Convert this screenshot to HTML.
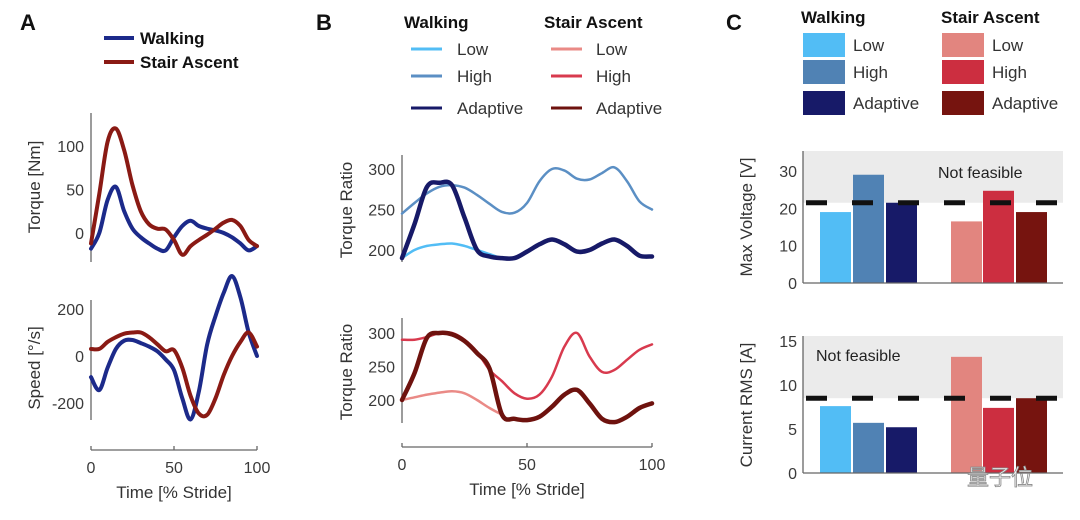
<!DOCTYPE html>
<html><head><meta charset="utf-8">
<style>
body{margin:0;background:#fff;}
svg{display:block;font-family:"Liberation Sans",sans-serif;}
.t{font-size:16px;fill:#3a3a3a;}
.lab{font-size:17px;fill:#333;}
.b{font-weight:bold;font-size:17px;fill:#111;}
.ax{stroke:#666;stroke-width:1.3;fill:none;}
</style></head>
<body>
<svg id="chart" width="1080" height="520" viewBox="0 0 1080 520">
<g id="root"></g>
</svg>
<script>
// ---------- DATA ----------
const xs = [0,5,10,15,20,25,30,35,40,45,50,55,60,65,70,75,80,85,90,95,100];
const torqueWalk = [-18,0,38,53,25,5,-5,-12,-18,-20,-5,8,14,8,5,3,0,-5,-12,-20,-15];
const torqueStair = [-12,45,105,120,95,55,25,10,5,4,-8,-25,-15,-8,-2,5,12,15,8,-8,-15];
const speedWalk = [-90,-145,-50,30,65,68,55,40,20,-15,-60,-180,-270,-150,50,170,270,340,250,100,0];
const speedStair = [30,30,60,80,95,100,100,80,50,20,25,-50,-170,-245,-250,-180,-80,0,60,100,40];
const ratioWalkHigh = [245,258,270,278,280,277,268,257,247,246,258,285,300,298,288,287,295,302,285,260,250];
const ratioWalkLow = [190,200,205,207,208,205,200,195,190,190,198,207,213,207,198,200,208,213,205,193,192];
const ratioWalkAdapt = [190,232,278,283,280,240,200,192,190,190,198,207,213,207,198,200,208,213,205,193,192];
const ratioStairHigh = [290,290,294,300,300,290,272,245,228,210,202,208,235,280,300,265,242,245,260,275,283];
const ratioStairLow = [200,204,208,211,213,210,200,188,178,172,170,175,190,208,215,195,172,167,175,188,195];
const ratioStairAdapt = [200,240,293,300,298,288,270,247,178,172,170,175,190,208,215,195,172,167,175,188,195];
const barCats = ['walk-low','walk-high','walk-adaptive','stair-low','stair-high','stair-adaptive'];
const voltageVals = [19,29,21.5,16.5,24.7,19];
const currentVals = [7.6,5.7,5.2,13.2,7.4,8.5];
const voltageLimit = 21.5;
const currentLimit = 8.5;
const barColors = ['#52bdf5','#5082b4','#171a68','#e2857f','#cc2e40','#76140f'];

const NS='http://www.w3.org/2000/svg';
const root=document.getElementById('root');
function el(tag,attrs,parent,text){const e=document.createElementNS(NS,tag);for(const k in attrs)e.setAttribute(k,attrs[k]);if(text!==undefined)e.textContent=text;(parent||root).appendChild(e);return e;}
function lin(d0,d1,r0,r1){return v=>r0+(v-d0)*(r1-r0)/(d1-d0);}
function smooth(pts){let d='M'+pts[0][0]+','+pts[0][1];for(let i=0;i<pts.length-1;i++){const p0=pts[Math.max(0,i-1)],p1=pts[i],p2=pts[i+1],p3=pts[Math.min(pts.length-1,i+2)];const c1=[p1[0]+(p2[0]-p0[0])/6,p1[1]+(p2[1]-p0[1])/6],c2=[p2[0]-(p3[0]-p1[0])/6,p2[1]-(p3[1]-p1[1])/6];d+=' C'+c1[0].toFixed(1)+','+c1[1].toFixed(1)+' '+c2[0].toFixed(1)+','+c2[1].toFixed(1)+' '+p2[0].toFixed(1)+','+p2[1].toFixed(1);}return d;}
function series(vals,X,Y,color,w,name,from,to){const pts=[];for(let i=0;i<xs.length;i++){if(xs[i]>=(from||0)&&xs[i]<=(to===undefined?100:to))pts.push([X(xs[i]),Y(vals[i])]);}
const p=el('path',{d:smooth(pts),stroke:color,'stroke-width':w,fill:'none','stroke-linejoin':'round','stroke-linecap':'round'});

}
function yaxis(x,y0,y1,ticks,Y,lx,name){const g=el('g',{});
el('line',{x1:x,y1:y0,x2:x,y2:y1,class:'ax'},g);
ticks.forEach(t=>el('text',{x:x-7,y:Y(t)+6,class:'t','text-anchor':'end'},g,String(t)));}
function ylabel(x,y,txt,name){const t=el('text',{x:x,y:y,class:'lab','text-anchor':'middle',transform:`rotate(-90 ${x} ${y})`},root,txt);}
function xaxis(x0,x1,y,X,name){const g=el('g',{});
el('line',{x1:x0,y1:y,x2:x1,y2:y,class:'ax'},g);
[0,50,100].forEach(t=>{el('line',{x1:X(t),y1:y,x2:X(t),y2:y-4,class:'ax'},g);el('text',{x:X(t),y:y+23,class:'t','text-anchor':'middle'},g,String(t));});
el('text',{x:(x0+x1)/2,y:y+48,class:'lab','text-anchor':'middle'},g,'Time [% Stride]');}
function letter(x,y,s){const t=el('text',{x:x,y:y,style:'font-weight:bold;font-size:22px;fill:#111'},root,s);}

// ---------- PANEL A ----------
letter(20,30,'A');
const XA=lin(0,100,91,257);
const YT=lin(0,100,233,146), YS=lin(0,200,356,309);
yaxis(91,113,262,[0,50,100],YT,0,'torque-y-axis');
yaxis(91,300,420,[-200,0,200],YS,0,'speed-y-axis');
ylabel(40,187,'Torque [Nm]','torque-y-title');
ylabel(40,368,'Speed [°/s]','speed-y-title');
xaxis(91,257,450,XA,'panel-a-x-axis');
series(torqueWalk,XA,YT,'#1c2a8a',4,'torque-walking-line');
series(torqueStair,XA,YT,'#8a1a14',4,'torque-stair-line');
series(speedWalk,XA,YS,'#1c2a8a',4,'speed-walking-line');
series(speedStair,XA,YS,'#8a1a14',4,'speed-stair-line');
[['Walking','#1c2a8a',38],['Stair Ascent','#8a1a14',62]].forEach(([t,c,y])=>{const g=el('g',{});el('line',{x1:104,y1:y,x2:134,y2:y,stroke:c,'stroke-width':4},g);el('text',{x:140,y:y+6,class:'b'},g,t);});

// ---------- PANEL B ----------
letter(316,30,'B');
const XB=lin(0,100,402,652);
const YB1=lin(200,300,250,169), YB2=lin(200,300,400,333);
yaxis(402,155,262,[200,250,300],YB1,0,'ratio-walk-y-axis');
yaxis(402,318,423,[200,250,300],YB2,0,'ratio-stair-y-axis');
ylabel(352,210,'Torque Ratio','ratio-walk-y-title');
ylabel(352,372,'Torque Ratio','ratio-stair-y-title');
xaxis(402,652,447,XB,'panel-b-x-axis');
series(ratioWalkHigh,XB,YB1,'#5b8fc4',2.5,'ratio-walk-high-line');
series(ratioWalkLow,XB,YB1,'#52bdf5',2.5,'ratio-walk-low-line');
series(ratioWalkAdapt,XB,YB1,'#171a68',4.5,'ratio-walk-adaptive-line');
series(ratioStairHigh,XB,YB2,'#d83a4e',2.5,'ratio-stair-high-line');
series(ratioStairLow,XB,YB2,'#ea8a86',2.5,'ratio-stair-low-line',0,40);
series(ratioStairAdapt,XB,YB2,'#6e120e',4.5,'ratio-stair-adaptive-line');
(function(){const rows=[['Low',49],['High',76],['Adaptive',108]];
const t1=el('text',{x:404,y:28,class:'b'},root,'Walking');
const t2=el('text',{x:544,y:28,class:'b'},root,'Stair Ascent');
const wc=['#52bdf5','#5b8fc4','#171a68'],sc=['#ea8a86','#d83a4e','#6e120e'];
rows.forEach(([t,y],i)=>{
const g=el('g',{});
el('line',{x1:411,y1:y,x2:442,y2:y,stroke:wc[i],'stroke-width':3},g);el('text',{x:457,y:y+6,class:'lab'},g,t);
const h=el('g',{});
el('line',{x1:551,y1:y,x2:582,y2:y,stroke:sc[i],'stroke-width':3},h);el('text',{x:596,y:y+6,class:'lab'},h,t);});})();

// ---------- PANEL C ----------
letter(726,30,'C');
const barX=[820,853,886,951,983,1016], barW=31;
function barChart(vals,limit,Y,ticks,y0,yTop,nfx,nfy,prefix){
const g=el('g',{});
const r=el('rect',{x:803,y:yTop,width:260,height:Y(limit)-yTop,fill:'#ebebeb'},g);
const nf=el('text',{x:nfx,y:nfy,style:'font-size:16px;fill:#222'},g,'Not feasible');
vals.forEach((v,i)=>{const b=el('rect',{x:barX[i],y:Y(v),width:barW,height:Y(0)-Y(v),fill:barColors[i]},g);

});
el('line',{x1:803,y1:Y(0),x2:1063,y2:Y(0),class:'ax'},g);
el('line',{x1:803,y1:yTop,x2:803,y2:Y(0),class:'ax'},g);
ticks.forEach(t=>el('text',{x:797,y:Y(t)+6,class:'t','text-anchor':'end'},g,String(t)));
const dl=el('line',{x1:806,y1:Y(limit),x2:1058,y2:Y(limit),stroke:'#111','stroke-width':5,'stroke-dasharray':'21 25'},g);}
const YV=lin(0,30,283,171), YC=lin(0,15,473,341);
barChart(voltageVals,voltageLimit,YV,[0,10,20,30],283,151,938,178,'voltage');
barChart(currentVals,currentLimit,YC,[0,5,10,15],473,336,816,361,'current');
ylabel(752,217,'Max Voltage [V]','voltage-y-title');
ylabel(752,405,'Current RMS [A]','current-y-title');
(function(){const rows=[['Low',45],['High',72],['Adaptive',103]];
const t1=el('text',{x:801,y:23,class:'b'},root,'Walking');
const t2=el('text',{x:941,y:23,class:'b'},root,'Stair Ascent');
rows.forEach(([t,y],i)=>{
const g=el('g',{});
el('rect',{x:803,y:y-12,width:42,height:24,fill:barColors[i]},g);el('text',{x:853,y:y+6,class:'lab'},g,t);
const h=el('g',{});
el('rect',{x:942,y:y-12,width:42,height:24,fill:barColors[i+3]},h);el('text',{x:992,y:y+6,class:'lab'},h,t);});})();
const wm=el('text',{x:967,y:485,style:'font-size:22px;fill:#f4f4f4;stroke:#888;stroke-width:0.8;font-family:"Liberation Sans","Noto Sans CJK SC",sans-serif'},root,'量子位');


</script>
</body></html>
